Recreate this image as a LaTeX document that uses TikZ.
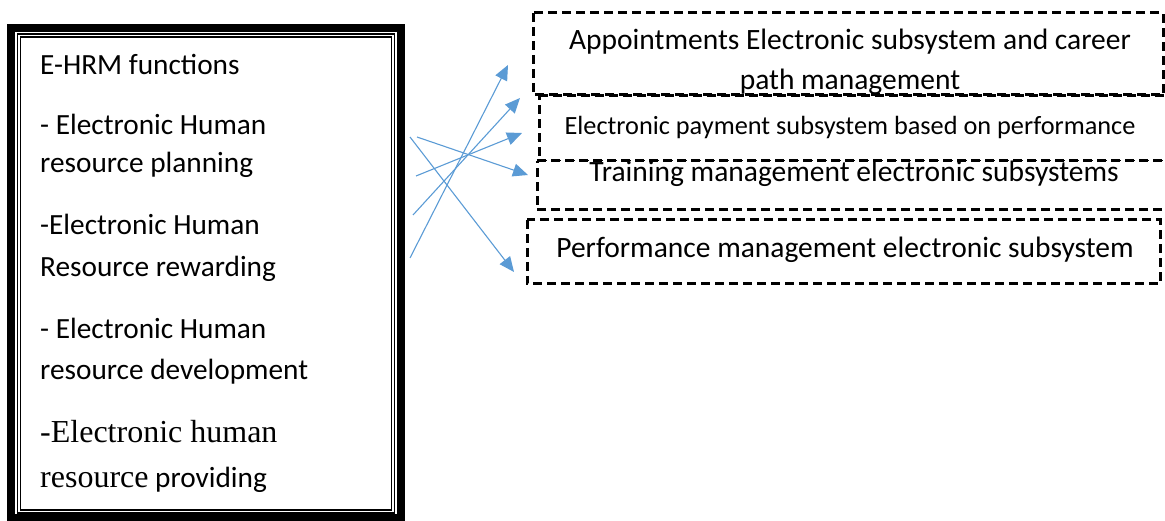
\documentclass[tikz,border=0pt]{standalone}
\usepackage{fontspec}
\setmainfont{Carlito}
\newfontfamily\tms{Liberation Serif}
\usetikzlibrary{arrows.meta}
\definecolor{arrblue}{HTML}{5B9BD5}
\tikzset{
  dbox/.style={draw=black, fill=white, line width=3pt, dash pattern=on 9pt off 5pt},
  ltxt/.style={anchor=base west, inner sep=0pt, font=\fontsize{29.3}{36}\selectfont},
  rtxt/.style={anchor=base, inner sep=0pt, font=\fontsize{29.5}{36}\selectfont},
  conn/.style={draw=arrblue, line width=1.1pt, -{Triangle[length=15pt,width=13pt]}}
}
\begin{document}
\begin{tikzpicture}[x=1pt,y=-1pt]
\useasboundingbox (0,0) rectangle (1165,521);
\clip (0,0) rectangle (1165,521);
% left framed box
\draw[line width=8pt] (11,28) rectangle (401,518);
\draw[line width=1.3pt] (17.5,34) rectangle (394.5,513);
\draw[line width=1.3pt] (20.5,37) rectangle (391.5,510);
\node[ltxt] (l0) at (40,75) {E-HRM functions};
\node[ltxt] (l1) at (40,135) {- Electronic Human};
\node[ltxt] (l1b) at (40,173) {resource planning};
\node[ltxt] (l2) at (40,235) {-Electronic Human};
\node[ltxt] (l2b) at (40,277) {Resource rewarding};
\node[ltxt] (l3) at (40,338) {- Electronic Human};
\node[ltxt] (l3b) at (40,380) {resource development};
\node[ltxt, font=\tms\fontsize{32}{36}\selectfont] (l4) at (40,442) {-Electronic human};
\node[ltxt] (l4b) at (40,487) {{\tms\fontsize{32}{36}\selectfont resource} providing};
% right boxes
\draw[dbox] (533,13) rectangle (1163,95);
\node[rtxt] (r1) at (850,50) {Appointments Electronic subsystem and career};
\node[rtxt] (r1b) at (850,90) {path management};
\draw[dbox] (539,96) -- (1175,96) -- (1175,162) -- (539,162) -- cycle;
\node[rtxt, font=\fontsize{26.3}{30}\selectfont] (r2) at (850,135) {Electronic payment subsystem based on performance};
\draw[dbox] (537,161) -- (1175,161) -- (1175,210) -- (537,210) -- cycle;
\node[rtxt] (r3) at (854,182) {Training management electronic subsystems};
\draw[dbox] (527,220) rectangle (1160,284);
\node[rtxt] (r4) at (845,258) {Performance management electronic subsystem};
% arrows
\coordinate (s1) at (410,258);
\coordinate (s2) at (413,215);
\coordinate (s3) at (416,176);
\coordinate (s4) at (417,137);
\coordinate (s5) at (410,137);
\coordinate (t1) at (508,65);
\coordinate (t2) at (520,98);
\coordinate (t3) at (522,133);
\coordinate (t4) at (528,175);
\coordinate (t5) at (514,272);
\draw[conn] (s1) -- (t1);
\draw[conn] (s2) -- (t2);
\draw[conn] (s3) -- (t3);
\draw[conn] (s4) -- (t4);
\draw[conn] (s5) -- (t5);
\end{tikzpicture}
\end{document}
